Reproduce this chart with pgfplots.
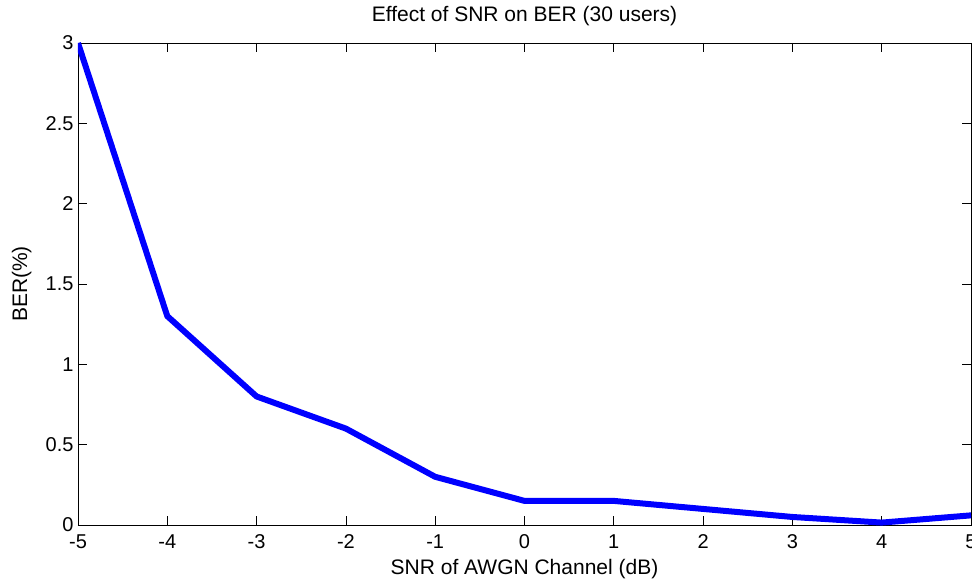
\documentclass[border=0pt]{standalone}
\usepackage{fontspec}
\setmainfont{Liberation Sans}
\usepackage{pgfplots}
\pgfplotsset{compat=1.18}
\begin{document}
\begin{tikzpicture}[x=1pt,y=1pt]
\useasboundingbox (-78,-59) rectangle (894,525);
\begin{axis}[
  at={(0,0)},anchor=south west,
  scale only axis,width=893pt,height=482pt,
  xmin=-5,xmax=5,ymin=0,ymax=3,
  xtick={-5,-4,...,5},ytick={0,0.5,...,3},
  tick align=inside,major tick length=9pt,
  tick style={black,line width=0.8pt},
  axis line style={line width=0.8pt},
  font=\fontsize{21}{24}\selectfont,
  tick label style={font=\fontsize{20}{24}\selectfont},
  /pgf/number format/assume math mode=true,
  xticklabel style={anchor=base,yshift=-23pt},
  yticklabel style={xshift=-1pt},
  title={Effect of SNR on BER (30 users)},
  title style={at={(axis description cs:0.5,1.033)},anchor=base},
  xlabel={SNR of AWGN Channel (dB)},
  xlabel style={at={(axis description cs:0.5,-0.103)},anchor=base},
  ylabel={BER(\%)},
  ylabel style={at={(axis description cs:-0.063,0.5)},anchor=center},
]
\addplot[color={rgb,255:red,0;green,0;blue,255},line width=6pt,line join=round] coordinates {
(-5,3.0)(-4,1.3)(-3,0.8)(-2,0.6)(-1,0.3)(0,0.15)(1,0.15)(2,0.1)(3,0.05)(4,0.015)(5,0.06)};
\end{axis}
\end{tikzpicture}
\end{document}
